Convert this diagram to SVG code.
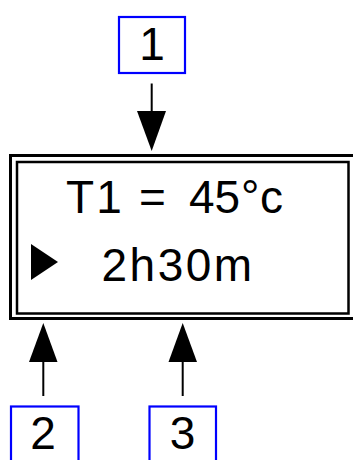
<svg xmlns="http://www.w3.org/2000/svg" width="353" height="460" viewBox="0 0 353 460">
<style>
.lbl{fill:none;stroke:#0000ff;stroke-width:2.2}
.t{font-family:"Liberation Sans",Arial,sans-serif;font-size:46px;fill:#000}
.c{text-anchor:middle}
.con{stroke:#000;stroke-width:2;fill:none}
.head{fill:#000}
</style>
<rect width="353" height="460" fill="#fff"/>
<g id="display">
<rect x="10.5" y="155.5" width="345" height="163" fill="none" stroke="#000" stroke-width="3"/>
<rect x="17" y="162" width="331.5" height="151.5" fill="none" stroke="#000" stroke-width="2.5"/>
<text class="t" x="66" y="213" letter-spacing="2.2">T1 =<tspan x="189" letter-spacing="0">45</tspan><tspan x="241" letter-spacing="0">°</tspan><tspan x="260" letter-spacing="0">c</tspan></text>
<polygon points="31,244 58,262 31,280" fill="#000"/>
<text class="t" x="101.5" y="281" letter-spacing="2.5">2h30m</text>
</g>
<g id="label1">
<rect class="lbl" x="119" y="17" width="66" height="56"/>
<text class="t c" x="152" y="60">1</text>
</g>
<g id="label2">
<rect class="lbl" x="11" y="406.5" width="67.5" height="60"/>
<text class="t c" x="43" y="449">2</text>
</g>
<g id="label3">
<rect class="lbl" x="149.5" y="406.5" width="66.5" height="60"/>
<text class="t c" x="182.5" y="449">3</text>
</g>
<g id="connectors">
<line class="con" x1="151.7" y1="83.5" x2="151.7" y2="115"/>
<polygon class="head" points="137,111 166,111 151.7,151"/>
<line class="con" x1="43.3" y1="396" x2="43.3" y2="358"/>
<polygon class="head" points="29,362 57.5,362 43.3,323"/>
<line class="con" x1="182.7" y1="396" x2="182.7" y2="358"/>
<polygon class="head" points="168.5,362 197,362 182.7,323"/>
</g>
</svg>
